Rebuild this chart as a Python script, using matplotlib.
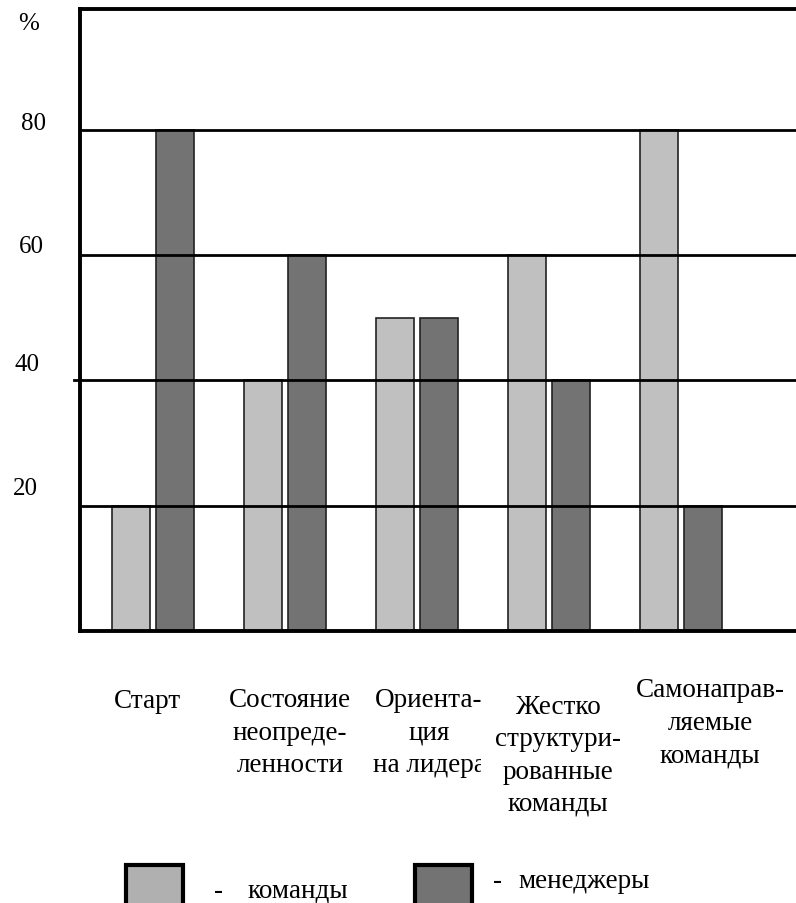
#Imports
import matplotlib
matplotlib.use('Agg')
import matplotlib.pyplot as plt
import matplotlib.transforms as mtransforms
from matplotlib.patches import Rectangle
import numpy as np

#Data
categories = ['Старт', 'Состояние\nнеопреде-\nленности', 'Ориента-\nция\nна лидера',
              'Жестко\nструктури-\nрованные\nкоманды', 'Самонаправ-\nляемые\nкоманды']
teams = [20, 40, 50, 60, 80]      # light bars
managers = [80, 60, 50, 40, 20]   # dark bars
y_ticks = [20, 40, 60, 80]
legend_labels = ['команды', 'менеджеры']

plt.rcParams['font.family'] = ['Liberation Serif', 'DejaVu Serif']
light = '#c0c0c0'
dark = '#737373'
W, H = 796, 904

def fx(px):
    return px / W

def fy(px):
    return 1 - px / H

fig = plt.figure(figsize=(W / 100, H / 100), dpi=100)
ax = fig.add_axes([fx(80), fy(632), 1 - fx(80), (632 - 10) / H])

x = np.arange(len(categories))
bw = 0.288
ax.bar(x - 0.167, teams, bw, color=light, edgecolor='#222222', linewidth=1.2, zorder=2)
ax.bar(x + 0.17, managers, bw, color=dark, edgecolor='#222222', linewidth=1.2, zorder=2)

ax.set_xlim(-0.553, 4.871)
ax.set_ylim(0, 99.3)

#gridlines on top of the bars; the 40 line sticks out a little past the axis
trans = mtransforms.blended_transform_factory(ax.transAxes, ax.transData)
for v in y_ticks:
    x0 = -0.0084 if v == 40 else 0
    ax.plot([x0, 1], [v, v], color='black', lw=2, transform=trans, clip_on=False, zorder=3)

ax.spines['right'].set_visible(False)
for s in ['left', 'top', 'bottom']:
    ax.spines[s].set_linewidth(2.8)
    ax.spines[s].set_zorder(4)
ax.set_xticks([])
ax.set_yticks([])

#tick labels sit just above their lines
tick_x = [25, 27, 31, 33]
tick_gap = [12, 10, 3, 1]
for v, tx, g in zip(y_ticks, tick_x, tick_gap):
    ax.annotate(str(v), xy=(fx(tx), v), xycoords=('figure fraction', 'data'),
                xytext=(0, g * 0.72), textcoords='offset points',
                ha='center', va='baseline', fontsize=18)
fig.text(fx(29), fy(30), '%', ha='center', va='baseline', fontsize=18)

#category labels under the axis (baseline of the last line)
label_x = [147, 290, 429, 558, 710]
label_base = [708, 772, 772, 811, 762]
for i, c in enumerate(categories):
    t = fig.text(fx(label_x[i]), fy(label_base[i]), c, ha='center', va='baseline',
                 fontsize=19.5, linespacing=1.39)
    if i == 2:
        # the original text box cuts off the last letter
        clip = Rectangle((0, 0), fx(481), 1, transform=fig.transFigure)
        t.set_clip_path(clip)

#legend drawn by hand, boxes run off the bottom edge
fig.patches.append(Rectangle((fx(126), fy(920)), 57 / W, 54 / H, transform=fig.transFigure,
                             facecolor='#b0b0b0', edgecolor='black', linewidth=3))
fig.patches.append(Rectangle((fx(415), fy(920)), 57 / W, 54 / H, transform=fig.transFigure,
                             facecolor=dark, edgecolor='black', linewidth=3))
fig.text(fx(218), fy(898), '-', ha='center', va='baseline', fontsize=19.5)
fig.text(fx(248), fy(898), legend_labels[0], ha='left', va='baseline', fontsize=19.5)
fig.text(fx(497), fy(888), '-', ha='center', va='baseline', fontsize=19.5)
fig.text(fx(518), fy(888), legend_labels[1], ha='left', va='baseline', fontsize=19.5)

plt.savefig('out.png', dpi=100)
